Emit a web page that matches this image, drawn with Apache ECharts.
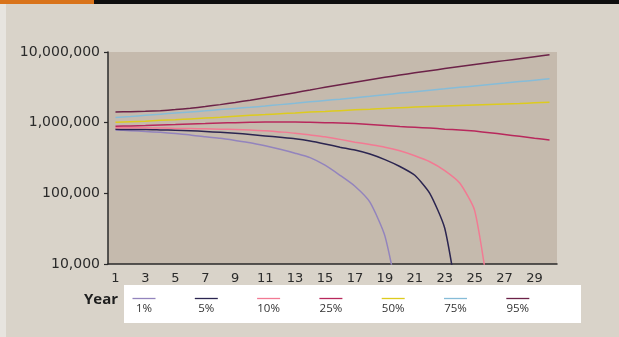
<!DOCTYPE html>
<html>
<head>
<meta charset="utf-8">
<script src="https://cdn.jsdelivr.net/npm/echarts@6/dist/echarts.min.js"></script>
<style>
  html, body { margin: 0; padding: 0; background: #d9d3c9; }
  #chart { width: 619px; height: 337px; }
</style>
</head>
<body>
<div id="chart"></div>
<script>
// Years of the simulation horizon
const years = Array.from({ length: 30 }, (_, i) => String(i + 1));

// Portfolio value by percentile outcome (dollars); null once the portfolio is depleted
const p1  = [790000, 770000, 750000, 730000, 700000, 670000, 630000, 600000, 560000, 520000,
             470000, 420000, 370000, 320000, 250000, 180000, 126000, 75000, 25000, 2500,
             null, null, null, null, null, null, null, null, null, null];
const p5  = [810000, 800000, 800000, 790000, 780000, 770000, 750000, 730000, 710000, 680000,
             650000, 620000, 590000, 550000, 500000, 450000, 410000, 360000, 300000, 240000,
             180000, 100000, 32000, 2000, null, null, null, null, null, null];
const p10 = [850000, 850000, 850000, 840000, 830000, 830000, 820000, 810000, 800000, 785000,
             770000, 740000, 710000, 670000, 630000, 580000, 530000, 490000, 450000, 400000,
             340000, 280000, 210000, 140000, 57000, 3000, null, null, null, null];
const p25 = [890000, 900000, 910000, 930000, 940000, 960000, 970000, 990000, 1000000, 1010000,
             1020000, 1020000, 1020000, 1010000, 1000000, 990000, 970000, 940000, 910000, 880000,
             860000, 840000, 810000, 790000, 760000, 720000, 680000, 640000, 600000, 570000];
const p50 = [1010000, 1030000, 1050000, 1080000, 1100000, 1130000, 1160000, 1190000, 1230000, 1270000,
             1300000, 1340000, 1370000, 1410000, 1440000, 1480000, 1520000, 1550000, 1590000, 1630000,
             1660000, 1690000, 1720000, 1750000, 1780000, 1810000, 1840000, 1870000, 1910000, 1950000];
const p75 = [1180000, 1220000, 1270000, 1320000, 1370000, 1420000, 1470000, 1530000, 1590000, 1650000,
             1720000, 1800000, 1880000, 1970000, 2060000, 2150000, 2260000, 2370000, 2490000, 2620000,
             2740000, 2880000, 3010000, 3160000, 3310000, 3470000, 3630000, 3810000, 3990000, 4180000];
const p95 = [1420000, 1430000, 1450000, 1480000, 1530000, 1600000, 1690000, 1800000, 1930000, 2080000,
             2250000, 2440000, 2660000, 2900000, 3170000, 3450000, 3740000, 4050000, 4380000, 4720000,
             5070000, 5440000, 5820000, 6220000, 6640000, 7080000, 7550000, 8050000, 8580000, 9150000];

const seriesNames  = ['1%', '5%', '10%', '25%', '50%', '75%', '95%'];
const seriesData   = [p1, p5, p10, p25, p50, p75, p95];
const seriesColors = ['#9384bd', '#2b2550', '#f27a93', '#b8285c', '#ddcb1e', '#86bcd8', '#6c2248'];

// Value axis range
const yMin = 10000;
const yMax = 10000000;

const axisFont = '"DejaVu Sans", sans-serif';
const legendFont = '"Open Sans", "Noto Sans", sans-serif';

const chart = echarts.init(document.getElementById('chart'), null, { renderer: 'canvas' });

// Legend drawn as a white strip with a short line over each label
const legendStartX = 144;
const legendStep = 62.3;
const legendGraphics = [
  { type: 'rect', shape: { x: 124, y: 285, width: 457, height: 38 }, style: { fill: '#ffffff' }, z: 10 },
  { type: 'text', x: 118, y: 300,
    style: { text: 'Year', fill: '#1e1e1e', font: 'bold 15px ' + legendFont, textAlign: 'right', textVerticalAlign: 'middle' }, z: 11 }
];
seriesNames.forEach((name, i) => {
  const cx = legendStartX + i * legendStep;
  legendGraphics.push({
    type: 'line', shape: { x1: cx - 11.5, y1: 298.5, x2: cx + 11.5, y2: 298.5 },
    style: { stroke: seriesColors[i], lineWidth: 1.3 }, z: 11
  });
  legendGraphics.push({
    type: 'text', x: cx, y: 309,
    style: { text: name, fill: '#333333', font: '11.5px ' + legendFont, textAlign: 'center', textVerticalAlign: 'middle' }, z: 11
  });
});

chart.setOption({
  animation: false,
  backgroundColor: '#d9d3c9',
  graphic: [
    { type: 'rect', shape: { x: 0, y: 0, width: 619, height: 4 }, style: { fill: '#0e0e0e' } },
    { type: 'rect', shape: { x: 0, y: 0, width: 94, height: 4 }, style: { fill: '#d9731a' } },
    { type: 'rect', shape: { x: 0, y: 4, width: 6, height: 333 }, style: { fill: '#e7e4df' } },
    ...legendGraphics
  ],
  grid: {
    left: 108, right: 62, top: 52, bottom: 73,
    show: true, backgroundColor: '#c5baad', borderWidth: 0
  },
  xAxis: {
    type: 'category',
    data: years,
    boundaryGap: true,
    axisLine: { lineStyle: { color: '#2a2a2a', width: 1.5 } },
    axisTick: { interval: 0, length: 4, lineStyle: { color: '#2a2a2a', width: 1.2 } },
    axisLabel: { interval: 1, color: '#2a2a2a', fontSize: 13, fontFamily: axisFont, margin: 8 },
    splitLine: { show: false }
  },
  yAxis: {
    type: 'log',
    logBase: 10,
    min: yMin,
    max: yMax,
    axisLine: { show: true, lineStyle: { color: '#2a2a2a', width: 1.5 } },
    axisTick: { show: true, length: 4, lineStyle: { color: '#2a2a2a', width: 1.2 } },
    axisLabel: {
      color: '#2a2a2a', fontSize: 14, fontFamily: axisFont, margin: 8,
      formatter: v => Math.round(v).toLocaleString('en-US')
    },
    splitLine: { show: false },
    minorTick: { show: false }
  },
  series: seriesNames.map((name, i) => ({
    name: name,
    type: 'line',
    data: seriesData[i],
    symbol: 'none',
    smooth: 0.2,
    clip: true,
    connectNulls: false,
    lineStyle: { color: seriesColors[i], width: 1.5 },
    z: 2 + i
  }))
});
</script>
</body>
</html>
